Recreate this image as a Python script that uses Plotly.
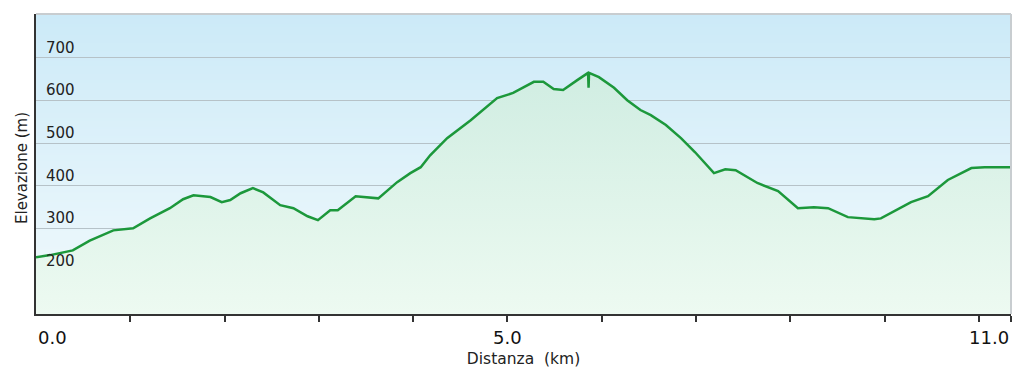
import base64
import struct
import zlib

import plotly.graph_objects as go

# ---------------- data ----------------
distance_km = [0.00, 0.15, 0.39, 0.50, 0.57, 0.82, 1.03, 1.21, 1.42, 1.56,
               1.67, 1.85, 1.97, 2.06, 2.17, 2.30, 2.41, 2.59, 2.73, 2.88,
               2.99, 3.12, 3.20, 3.39, 3.47, 3.63, 3.83, 3.97, 4.08, 4.18,
               4.36, 4.61, 4.89, 5.06, 5.28, 5.38, 5.49, 5.59, 5.74, 5.855,
               5.86, 5.865, 5.97, 6.13, 6.27, 6.41, 6.52, 6.68, 6.84, 6.99,
               7.19, 7.31, 7.42, 7.65, 7.87, 8.08, 8.25, 8.40, 8.61, 8.89,
               8.96, 9.28, 9.46, 9.67, 9.92, 10.06, 10.34]
elevation_m = [233, 238, 249, 262, 272, 296, 301, 324, 348, 369,
               378, 374, 362, 367, 383, 395, 385, 355, 348, 329,
               320, 343, 343, 376, 374, 371, 409, 430, 444, 472,
               512, 554, 606, 618, 644, 644, 627, 625, 648, 665,
               630, 665, 655, 630, 601, 578, 566, 543, 512, 479,
               430, 439, 437, 407, 388, 348, 350, 348, 327, 322,
               324, 362, 376, 414, 442, 444, 444]
assert len(distance_km) == len(elevation_m)

y_ticks = [200, 300, 400, 500, 600, 700]
y_range = [100, 803]
x_end = distance_km[-1]
x_minor_ticks = list(range(0, 11))
x_label_positions = [0, 5, x_end]
x_label_texts = ["0.0", "5.0", "11.0"]
x_label_anchors = ["left", "center", "right"]
y_title = "Elevazione (m)"
x_title = "Distanza\u00a0 (km)"

# ---------------- styling ----------------
LINE_COLOR = "#1c983b"
BG_TOP = (204, 234, 248)
BG_BOTTOM = (242, 250, 252)
FILL_TOP = "rgb(208,237,226)"
FILL_BOTTOM = "rgb(237,250,241)"
FONT = "DejaVu Sans"


def gradient_png(top, bottom, h=256, w=2):
    raw = b""
    for i in range(h):
        t = i / (h - 1)
        c = bytes(round(top[k] + (bottom[k] - top[k]) * t) for k in range(3))
        raw += b"\x00" + c * w

    def chunk(tag, data):
        return (struct.pack(">I", len(data)) + tag + data
                + struct.pack(">I", zlib.crc32(tag + data) & 0xFFFFFFFF))

    ihdr = struct.pack(">IIBBBBB", w, h, 8, 2, 0, 0, 0)
    png = (b"\x89PNG\r\n\x1a\n" + chunk(b"IHDR", ihdr)
           + chunk(b"IDAT", zlib.compress(raw)) + chunk(b"IEND", b""))
    return "data:image/png;base64," + base64.b64encode(png).decode()


fig = go.Figure()
fig.add_trace(go.Scatter(
    x=distance_km, y=elevation_m, mode="lines",
    line=dict(color=LINE_COLOR, width=2.5),
    fill="tozeroy",
    fillgradient=dict(type="vertical", start=y_range[0], stop=max(elevation_m),
                      colorscale=[[0, FILL_BOTTOM], [1, FILL_TOP]]),
    hoverinfo="skip", showlegend=False,
))

annotations = [
    dict(x=xp, y=0, xref="x", yref="paper", text=txt, showarrow=False,
         xanchor=anc, yanchor="top", yshift=-11,
         font=dict(family=FONT, size=18, color="#111111"))
    for xp, txt, anc in zip(x_label_positions, x_label_texts, x_label_anchors)
]
annotations.append(dict(
    x=0, y=0.5, xref="paper", yref="paper", text=y_title, showarrow=False,
    textangle=-90, xanchor="center", yanchor="middle", xshift=-14, yshift=-4,
    font=dict(family=FONT, size=15, color="#222222")))

fig.update_layout(
    width=1024, height=378,
    margin=dict(l=36, r=13, t=14, b=64),
    paper_bgcolor="white", plot_bgcolor="white",
    font=dict(family=FONT, color="#222222"),
    images=[dict(source=gradient_png(BG_TOP, BG_BOTTOM), xref="paper", yref="paper",
                 x=0, y=1, sizex=1, sizey=1, sizing="stretch",
                 xanchor="left", yanchor="top", layer="below")],
    shapes=[
        dict(type="line", xref="paper", yref="paper", x0=0, x1=1, y0=1, y1=1,
             line=dict(color="#c8cdd0", width=2), layer="above"),
        dict(type="line", xref="paper", yref="paper", x0=1, x1=1, y0=0, y1=1,
             line=dict(color="#c8cdd0", width=2), layer="above"),
    ],
    annotations=annotations,
    xaxis=dict(
        range=[0, x_end], tickvals=x_minor_ticks + [x_end],
        ticktext=[""] * (len(x_minor_ticks) + 1),
        ticks="outside", ticklen=6, tickwidth=2, tickcolor="#333333",
        showline=True, linecolor="#333333", linewidth=2,
        showgrid=False, zeroline=False, automargin=False,
        title=dict(text=x_title, standoff=30,
                   font=dict(family=FONT, size=15.5, color="#222222")),
    ),
    yaxis=dict(
        range=y_range, tickvals=y_ticks, ticks="",
        ticklabelposition="inside top", ticklabelstandoff=9,
        tickfont=dict(family=FONT, size=15, color="#222222"),
        showgrid=True, gridcolor="#b6c2c8", gridwidth=1.3,
        showline=True, linecolor="#333333", linewidth=2,
        zeroline=False, automargin=False,
    ),
)

fig.write_html("out.html")
